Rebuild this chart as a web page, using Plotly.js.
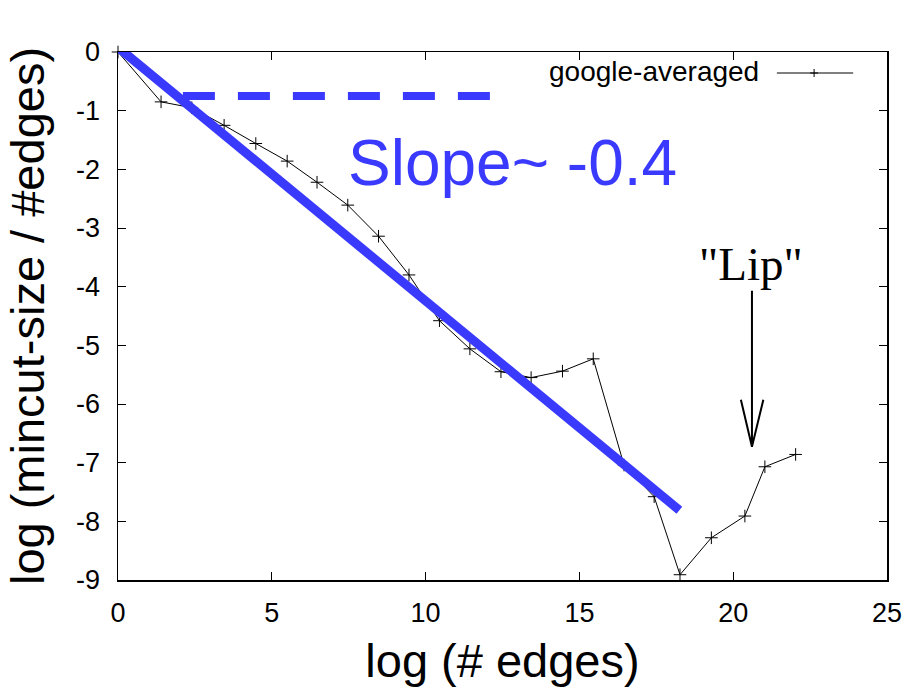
<!DOCTYPE html>
<html>
<head>
<meta charset="utf-8">
<script src="https://cdn.plot.ly/plotly-3.0.1.min.js"></script>
<style>html,body{margin:0;padding:0;background:#fff;}#chart{width:904px;height:690px;}</style>
</head>
<body>
<div id="chart"></div>
<script>
// Data
const seriesName = 'google-averaged';
const logEdges = [0, 1.4, 2.4, 3.45, 4.48, 5.5, 6.47, 7.47, 8.47, 9.46, 10.45, 11.44, 12.45, 13.43, 14.45, 15.45, 16.45, 17.43, 18.27, 19.29, 20.38, 21.03, 22.03];
const logMincut = [0, -0.85, -0.95, -1.25, -1.56, -1.86, -2.22, -2.61, -3.14, -3.80, -4.58, -5.06, -5.45, -5.55, -5.44, -5.23, -7.04, -7.58, -8.91, -8.28, -7.91, -7.07, -6.86];
const fitX = [0.07, 18.25];
const fitY = [0.05, -7.81];
const dashX = [2.11, 12.09];
const dashY = [-0.75, -0.75];
const xTicks = [0, 5, 10, 15, 20, 25];
const yTicks = [0, -1, -2, -3, -4, -5, -6, -7, -8, -9];
const slopeLabel = 'Slope~ -0.4';
const lipLabel = '"Lip"';

const BLUE = '#3a3aff';
const SANS = 'Liberation Sans, Arial, Helvetica, sans-serif';
const SERIF = 'Liberation Serif, Times New Roman, serif';

const traces = [
  {
    x: logEdges, y: logMincut, type: 'scatter', mode: 'lines+markers', name: seriesName,
    line: {color: '#000', width: 1},
    marker: {symbol: 'cross-thin', size: 9, color: '#000', line: {color: '#000', width: 1}},
    showlegend: false, cliponaxis: false
  },
  {
    x: fitX, y: fitY, type: 'scatter', mode: 'lines', name: 'fit',
    line: {color: BLUE, width: 9}, showlegend: false
  },
  {
    x: dashX, y: dashY, type: 'scatter', mode: 'lines', name: 'dash',
    line: {color: BLUE, width: 8, dash: '32px,23px'}, showlegend: false
  }
];

const axisCommon = {
  showgrid: false, zeroline: false, showline: true, linecolor: '#000', linewidth: 1.5,
  mirror: 'allticks', ticks: 'inside', ticklen: 8, tickwidth: 1, tickcolor: '#000',
  tickfont: {family: SANS, size: 27, color: '#000'}
};

// legend drawn gnuplot-style (text, then sample)
const lgY = -0.358, lgX0 = 21.42, lgX1 = 23.9, lgXm = 22.63, dx = 0.13, dy = 0.068;

const layout = {
  width: 904, height: 690,
  margin: {l: 118, r: 17, t: 52, b: 109.5},
  paper_bgcolor: '#fff', plot_bgcolor: '#fff',
  showlegend: false,
  xaxis: Object.assign({}, axisCommon, {
    range: [0, 25], tickvals: xTicks, ticktext: xTicks.map(String),
    ticklabelstandoff: 8,
    title: {text: 'log (# edges)', font: {family: SANS, size: 47, color: '#000'}, standoff: 17}
  }),
  yaxis: Object.assign({}, axisCommon, {
    range: [-9, 0], tickvals: yTicks, ticktext: yTicks.map(String),
    ticklabelstandoff: 11,
    title: {text: 'log (mincut-size / #edges)', font: {family: SANS, size: 47, color: '#000'}, standoff: 16}
  }),
  annotations: [
    {x: 12.81, y: -1.89, xref: 'x', yref: 'y', text: slopeLabel, showarrow: false,
     xanchor: 'center', yanchor: 'middle', font: {family: SANS, size: 64, color: BLUE}},
    {x: 20.58, y: -3.617, xref: 'x', yref: 'y', text: lipLabel, showarrow: false,
     xanchor: 'center', yanchor: 'middle', font: {family: SERIF, size: 47, color: '#000'}},
    {x: 20.9, y: -0.334, xref: 'x', yref: 'y', text: seriesName, showarrow: false,
     xanchor: 'right', yanchor: 'middle', font: {family: SANS, size: 28, color: '#000'}}
  ],
  shapes: [
    // arrow for "Lip"
    {type: 'path', xref: 'x', yref: 'y', path: 'M20.61,-4.07 L20.61,-6.727 M20.25,-5.926 L20.61,-6.727 L20.98,-5.926',
     line: {color: '#000', width: 2}},
    // legend sample
    {type: 'line', xref: 'x', yref: 'y', x0: lgX0, x1: lgX1, y0: lgY, y1: lgY, line: {color: '#000', width: 1}},
    {type: 'path', xref: 'x', yref: 'y',
     path: `M${lgXm - dx},${lgY} L${lgXm + dx},${lgY} M${lgXm},${lgY - dy} L${lgXm},${lgY + dy}`,
     line: {color: '#000', width: 1}}
  ]
};

Plotly.newPlot('chart', traces, layout, {displayModeBar: false, staticPlot: true});
</script>
</body>
</html>
